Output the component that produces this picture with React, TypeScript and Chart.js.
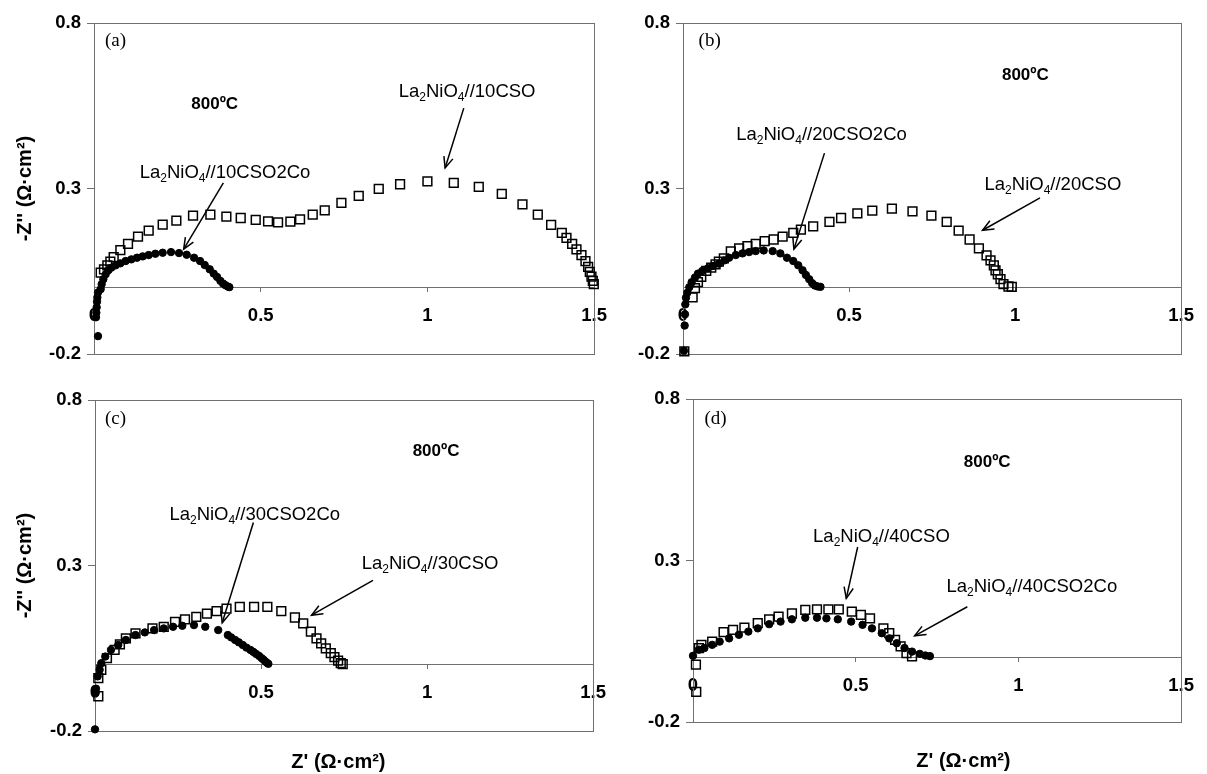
import React, { useEffect, useRef } from 'react';
import { Chart, registerables } from 'chart.js';

Chart.register(...registerables);

type Pt = [number, number];

// ---------------- axes ----------------
const xTicks = [0, 0.5, 1, 1.5];
const yTicks = [-0.2, 0.3, 0.8];
const xMin = 0;
const xMax = 1.5;
const yMin = -0.2;
const yMax = 0.8;

// ---------------- texts ----------------
const panelLetters = ['(a)', '(b)', '(c)', '(d)'];
const tempText = '800ºC';
const yAxisTitle = "-Z'' (Ω·cm²)";
const xAxisTitle = "Z' (Ω·cm²)";
const squareNames = ['La2NiO4//10CSO', 'La2NiO4//20CSO', 'La2NiO4//30CSO', 'La2NiO4//40CSO'];
const circleNames = ['La2NiO4//10CSO2Co', 'La2NiO4//20CSO2Co', 'La2NiO4//30CSO2Co', 'La2NiO4//40CSO2Co'];

// ---------------- data (Z', -Z'') ----------------
const a_10CSO: Pt[] = [
  [0.020, 0.046], [0.030, 0.056], [0.040, 0.068], [0.049, 0.079], [0.059, 0.093], [0.079, 0.114],
  [0.102, 0.133], [0.132, 0.155], [0.164, 0.173], [0.206, 0.191], [0.247, 0.203], [0.297, 0.218],
  [0.349, 0.221], [0.397, 0.215], [0.440, 0.211], [0.485, 0.205], [0.522, 0.201], [0.552, 0.198],
  [0.589, 0.200], [0.618, 0.207], [0.656, 0.221], [0.692, 0.234], [0.742, 0.257], [0.794, 0.278],
  [0.854, 0.299], [0.918, 0.313], [1.000, 0.322], [1.079, 0.317], [1.154, 0.305], [1.223, 0.284],
  [1.285, 0.252], [1.331, 0.221], [1.371, 0.190], [1.403, 0.166], [1.417, 0.151], [1.434, 0.133],
  [1.447, 0.116], [1.462, 0.099], [1.474, 0.081], [1.482, 0.063], [1.487, 0.048], [1.492, 0.034],
  [1.496, 0.021], [1.499, 0.011],
];
const a_10CSO2Co: Pt[] = [
  [0.012, -0.146], [0.006, -0.089], [0.007, -0.075], [0.008, -0.059], [0.009, -0.042], [0.010, -0.029],
  [0.012, -0.014], [0.020, -0.004], [0.023, 0.011], [0.028, 0.026], [0.035, 0.041], [0.043, 0.053],
  [0.052, 0.061], [0.065, 0.068], [0.079, 0.074], [0.095, 0.081], [0.112, 0.086], [0.129, 0.091],
  [0.146, 0.095], [0.164, 0.099], [0.184, 0.103], [0.206, 0.106], [0.231, 0.108], [0.255, 0.105],
  [0.278, 0.100], [0.300, 0.091], [0.318, 0.081], [0.332, 0.069], [0.347, 0.056], [0.359, 0.043],
  [0.369, 0.033], [0.379, 0.021], [0.387, 0.013], [0.394, 0.008], [0.401, 0.004], [0.406, 0.002],
];
const b_20CSO: Pt[] = [
  [0.004, -0.192], [0.029, -0.029], [0.036, -0.001], [0.045, 0.017], [0.055, 0.033], [0.070, 0.051],
  [0.085, 0.061], [0.098, 0.071], [0.108, 0.079], [0.123, 0.089], [0.144, 0.110], [0.169, 0.119],
  [0.194, 0.126], [0.219, 0.133], [0.246, 0.141], [0.273, 0.146], [0.300, 0.155], [0.332, 0.166],
  [0.355, 0.176], [0.392, 0.186], [0.441, 0.199], [0.476, 0.211], [0.525, 0.225], [0.570, 0.233],
  [0.629, 0.239], [0.691, 0.231], [0.748, 0.218], [0.794, 0.199], [0.830, 0.173], [0.863, 0.146],
  [0.891, 0.119], [0.914, 0.098], [0.926, 0.083], [0.936, 0.068], [0.941, 0.053], [0.948, 0.041],
  [0.956, 0.026], [0.965, 0.011], [0.980, 0.004], [0.990, 0.003],
];
const b_20CSO2Co: Pt[] = [
  [0.003, -0.190], [0.005, -0.114], [0.006, -0.080], [0.007, -0.050], [0.009, -0.030], [0.013, -0.015],
  [0.019, 0.002], [0.026, 0.017], [0.036, 0.031], [0.045, 0.043], [0.058, 0.051], [0.075, 0.059],
  [0.090, 0.066], [0.108, 0.073], [0.125, 0.083], [0.139, 0.091], [0.159, 0.099], [0.179, 0.104],
  [0.199, 0.108], [0.219, 0.111], [0.243, 0.113], [0.270, 0.111], [0.293, 0.104], [0.313, 0.091],
  [0.332, 0.081], [0.347, 0.068], [0.360, 0.053], [0.370, 0.039], [0.380, 0.026], [0.389, 0.014],
  [0.397, 0.007], [0.406, 0.004], [0.414, 0.003],
];
const c_30CSO: Pt[] = [
  [0.010, -0.095], [0.010, -0.040], [0.019, -0.015], [0.036, 0.020], [0.059, 0.045], [0.075, 0.062],
  [0.093, 0.080], [0.122, 0.095], [0.173, 0.110], [0.207, 0.115], [0.241, 0.130], [0.271, 0.137],
  [0.305, 0.145], [0.337, 0.155], [0.366, 0.162], [0.396, 0.170], [0.436, 0.175], [0.479, 0.175],
  [0.519, 0.175], [0.561, 0.162], [0.602, 0.143], [0.627, 0.125], [0.650, 0.100], [0.667, 0.080],
  [0.681, 0.065], [0.695, 0.050], [0.710, 0.035], [0.721, 0.023], [0.732, 0.013], [0.740, 0.005],
  [0.746, 0.002],
];
const c_30CSO2Co: Pt[] = [
  [0.000, -0.195], [0.002, -0.085], [0.003, -0.072], [0.008, -0.035], [0.014, -0.015], [0.019, 0.005],
  [0.031, 0.025], [0.048, 0.045], [0.070, 0.060], [0.093, 0.075], [0.122, 0.090], [0.150, 0.098],
  [0.178, 0.105], [0.207, 0.110], [0.235, 0.115], [0.263, 0.118], [0.298, 0.120], [0.332, 0.115],
  [0.371, 0.105], [0.400, 0.090], [0.410, 0.083], [0.422, 0.075], [0.433, 0.068], [0.445, 0.060],
  [0.456, 0.052], [0.468, 0.045], [0.477, 0.039], [0.485, 0.033], [0.494, 0.027], [0.502, 0.020],
  [0.508, 0.015], [0.513, 0.010], [0.518, 0.006], [0.522, 0.003],
];
const d_40CSO: Pt[] = [
  [0.010, -0.107], [0.009, -0.022], [0.018, 0.029], [0.026, 0.039], [0.059, 0.049], [0.094, 0.078],
  [0.123, 0.085], [0.158, 0.092], [0.199, 0.106], [0.234, 0.118], [0.263, 0.126], [0.304, 0.136],
  [0.345, 0.147], [0.381, 0.149], [0.416, 0.149], [0.448, 0.149], [0.488, 0.142], [0.516, 0.132],
  [0.544, 0.121], [0.585, 0.090], [0.603, 0.075], [0.621, 0.054], [0.638, 0.034], [0.656, 0.013],
  [0.673, 0.003],
];
const d_40CSO2Co: Pt[] = [
  [0.000, 0.005], [0.018, 0.024], [0.035, 0.029], [0.059, 0.039], [0.082, 0.049], [0.111, 0.059],
  [0.141, 0.070], [0.170, 0.080], [0.199, 0.090], [0.234, 0.103], [0.269, 0.111], [0.304, 0.118],
  [0.345, 0.123], [0.381, 0.123], [0.410, 0.121], [0.445, 0.118], [0.486, 0.111], [0.521, 0.101],
  [0.550, 0.090], [0.580, 0.075], [0.603, 0.059], [0.626, 0.044], [0.650, 0.029], [0.673, 0.018],
  [0.697, 0.011], [0.714, 0.006], [0.728, 0.004],
];

// ---------------- styling / layout ----------------
const AXIS = '#707070';
const SANS = '"Liberation Sans", Arial, sans-serif';
const SERIF = '"Liberation Serif", "Times New Roman", serif';

interface Panel {
  idx: number;
  squares: Pt[];
  circles: Pt[];
  box: { left: number; top: number; right: number; bottom: number };
  axisW: number;
  pad: { left: number; top: number; right: number; bottom: number };
  yTitle: boolean;
  letterAt: Pt;
  tempAt: Pt;
  squareLabelAt: Pt;
  circleLabelAt: Pt;
  squareArrow: [Pt, Pt];
  circleArrow: [Pt, Pt];
  xTitleAt?: Pt;
}

const panels: Panel[] = [
  {
    idx: 0, squares: a_10CSO, circles: a_10CSO2Co,
    box: { left: 94, top: 21, right: 600, bottom: 354 }, axisW: 94,
    pad: { left: 0, top: 15, right: 20, bottom: 20 }, yTitle: true,
    letterAt: [0.033, 0.745], tempAt: [0.362, 0.556],
    squareLabelAt: [0.914, 0.598], circleLabelAt: [0.137, 0.351],
    squareArrow: [[1.109, 0.543], [1.053, 0.362]], circleArrow: [[0.388, 0.317], [0.269, 0.117]],
  },
  {
    idx: 1, squares: b_20CSO, circles: b_20CSO2Co,
    box: { left: 683, top: 21, right: 1189, bottom: 354 }, axisW: 60,
    pad: { left: 0, top: 15, right: 18, bottom: 20 }, yTitle: false,
    letterAt: [0.047, 0.745], tempAt: [1.031, 0.643],
    squareLabelAt: [0.908, 0.315], circleLabelAt: [0.160, 0.466],
    squareArrow: [[1.075, 0.272], [0.902, 0.174]], circleArrow: [[0.426, 0.407], [0.334, 0.117]],
  },
  {
    idx: 2, squares: c_30CSO, circles: c_30CSO2Co,
    box: { left: 95, top: 398, right: 599, bottom: 731 }, axisW: 95,
    pad: { left: 0, top: 15, right: 20, bottom: 43 }, yTitle: true,
    letterAt: [0.030, 0.742], tempAt: [1.027, 0.646],
    squareLabelAt: [0.803, 0.310], circleLabelAt: [0.224, 0.458],
    squareArrow: [[0.837, 0.255], [0.652, 0.150]], circleArrow: [[0.477, 0.430], [0.383, 0.127]],
    xTitleAt: [0.733, -0.294],
  },
  {
    idx: 3, squares: d_40CSO, circles: d_40CSO2Co,
    box: { left: 693, top: 397, right: 1189, bottom: 722 }, axisW: 60,
    pad: { left: 0, top: 15, right: 18, bottom: 52 }, yTitle: false,
    letterAt: [0.035, 0.739], tempAt: [0.904, 0.603],
    squareLabelAt: [0.369, 0.377], circleLabelAt: [0.779, 0.222],
    squareArrow: [[0.506, 0.342], [0.471, 0.183]], circleArrow: [[0.843, 0.157], [0.681, 0.067]],
    xTitleAt: [0.831, -0.323],
  },
];

function geometry(p: Panel) {
  const left = p.box.left - p.pad.left - p.axisW;
  const top = p.box.top - p.pad.top;
  const w = p.box.right + p.pad.right - left;
  const h = p.box.bottom + p.pad.bottom - top;
  return { left, top, w, h };
}

function splitName(name: string): [string, boolean][] {
  const m = /^La(\d)NiO(\d)(.*)$/.exec(name);
  if (!m) return [[name, false]];
  return [['La', false], [m[1], true], ['NiO', false], [m[2], true], [m[3], false]];
}

function drawName(ctx: CanvasRenderingContext2D, name: string, x: number, y: number) {
  const size = 18.5;
  const sub = 12;
  let cx = x;
  ctx.textAlign = 'left';
  ctx.textBaseline = 'alphabetic';
  const base = y + size * 0.36;
  for (const [s, isSub] of splitName(name)) {
    ctx.font = `${isSub ? sub : size}px ${SANS}`;
    ctx.fillText(s, cx, isSub ? base + 4 : base);
    cx += ctx.measureText(s).width;
  }
}

function drawArrow(ctx: CanvasRenderingContext2D, x1: number, y1: number, x2: number, y2: number) {
  ctx.beginPath();
  ctx.moveTo(x1, y1);
  ctx.lineTo(x2, y2);
  ctx.stroke();
  const ang = Math.atan2(y2 - y1, x2 - x1);
  const L = 12;
  const s = 0.4;
  ctx.beginPath();
  ctx.moveTo(x2 - L * Math.cos(ang - s), y2 - L * Math.sin(ang - s));
  ctx.lineTo(x2, y2);
  ctx.lineTo(x2 - L * Math.cos(ang + s), y2 - L * Math.sin(ang + s));
  ctx.stroke();
}

function makeOverlay(p: Panel) {
  return {
    id: 'overlay' + p.idx,
    beforeDatasetsDraw(chart: any) {
      const { ctx, chartArea: a } = chart;
      ctx.save();
      ctx.strokeStyle = AXIS;
      ctx.lineWidth = 1;
      ctx.strokeRect(Math.round(a.left) + 0.5, Math.round(a.top) + 0.5,
        Math.round(a.right - a.left), Math.round(a.bottom - a.top));
      ctx.restore();
    },
    afterDatasetsDraw(chart: any) {
      const { ctx, scales } = chart;
      const X = (v: number) => scales.x.getPixelForValue(v);
      const Y = (v: number) => scales.y.getPixelForValue(v);
      ctx.save();
      ctx.fillStyle = '#000';
      ctx.strokeStyle = '#000';
      // panel letter
      ctx.font = `19px ${SERIF}`;
      ctx.textAlign = 'left';
      ctx.textBaseline = 'middle';
      ctx.fillText(panelLetters[p.idx], X(p.letterAt[0]), Y(p.letterAt[1]));
      // temperature
      ctx.font = `bold 17px ${SANS}`;
      ctx.textAlign = 'center';
      ctx.fillText(tempText, X(p.tempAt[0]), Y(p.tempAt[1]));
      // series labels
      drawName(ctx, squareNames[p.idx], X(p.squareLabelAt[0]), Y(p.squareLabelAt[1]));
      drawName(ctx, circleNames[p.idx], X(p.circleLabelAt[0]), Y(p.circleLabelAt[1]));
      // arrows
      ctx.lineWidth = 1.5;
      for (const arr of [p.squareArrow, p.circleArrow]) {
        drawArrow(ctx, X(arr[0][0]), Y(arr[0][1]), X(arr[1][0]), Y(arr[1][1]));
      }
      // x-axis title
      if (p.xTitleAt) {
        ctx.font = `bold 20px ${SANS}`;
        ctx.textAlign = 'center';
        ctx.textBaseline = 'middle';
        ctx.fillText(xAxisTitle, X(p.xTitleAt[0]), Y(p.xTitleAt[1]));
      }
      ctx.restore();
    },
  };
}

function buildConfig(p: Panel): any {
  const tickFont = { family: SANS, size: 18.5, weight: 'bold' as const };
  return {
    type: 'scatter',
    data: {
      datasets: [
        {
          label: squareNames[p.idx],
          data: p.squares.map(([x, y]) => ({ x, y })),
          pointStyle: 'rect',
          pointRadius: 6.2,
          borderWidth: 1.5,
          borderColor: '#000',
          backgroundColor: 'rgba(255,255,255,0)',
          showLine: false,
          clip: false,
        },
        {
          label: circleNames[p.idx],
          data: p.circles.map(([x, y]) => ({ x, y })),
          pointStyle: 'circle',
          pointRadius: 3.7,
          borderWidth: 1,
          borderColor: '#000',
          backgroundColor: '#000',
          showLine: false,
          clip: false,
        },
      ],
    },
    options: {
      animation: false,
      responsive: false,
      maintainAspectRatio: false,
      events: [],
      layout: { padding: p.pad },
      plugins: { legend: { display: false }, tooltip: { enabled: false }, title: { display: false } },
      scales: {
        x: {
          type: 'linear',
          min: xMin,
          max: xMax,
          position: { y: 0 },
          afterBuildTicks: (s: any) => { s.ticks = xTicks.map((v) => ({ value: v })); },
          ticks: {
            font: tickFont,
            color: '#000',
            padding: 13,
            autoSkip: false,
            maxRotation: 0,
            callback: (v: number) => String(v),
          },
          grid: { display: true, drawOnChartArea: false, drawTicks: true, tickLength: 4, color: AXIS, lineWidth: 1 },
          border: { display: true, color: AXIS, width: 1 },
        },
        y: {
          type: 'linear',
          min: yMin,
          max: yMax,
          position: 'left',
          afterBuildTicks: (s: any) => { s.ticks = yTicks.map((v) => ({ value: v })); },
          afterFit: (s: any) => { s.width = p.axisW; },
          ticks: {
            font: tickFont,
            color: '#000',
            padding: 6,
            autoSkip: false,
            callback: (v: number) => String(v),
          },
          grid: { display: true, drawOnChartArea: false, drawTicks: true, tickLength: 7, color: AXIS, lineWidth: 1 },
          border: { display: true, color: AXIS, width: 1 },
          title: {
            display: p.yTitle,
            text: yAxisTitle,
            color: '#000',
            font: { family: SANS, size: 20, weight: 'bold' },
            padding: { top: 13, bottom: 0 },
          },
        },
      },
    },
    plugins: [makeOverlay(p)],
  };
}

function PanelChart({ p }: { p: Panel }) {
  const ref = useRef<HTMLCanvasElement>(null);
  const g = geometry(p);
  useEffect(() => {
    if (!ref.current) return;
    const chart = new Chart(ref.current, buildConfig(p));
    return () => chart.destroy();
  }, [p]);
  return (
    <canvas
      ref={ref}
      width={g.w}
      height={g.h}
      style={{ position: 'absolute', left: g.left, top: g.top, width: g.w, height: g.h }}
    />
  );
}

export default function App() {
  return (
    <div style={{ position: 'absolute', left: 0, top: 0, width: 1207, height: 774, background: '#fff', overflow: 'hidden' }}>
      {panels.map((p) => (
        <PanelChart key={p.idx} p={p} />
      ))}
    </div>
  );
}
